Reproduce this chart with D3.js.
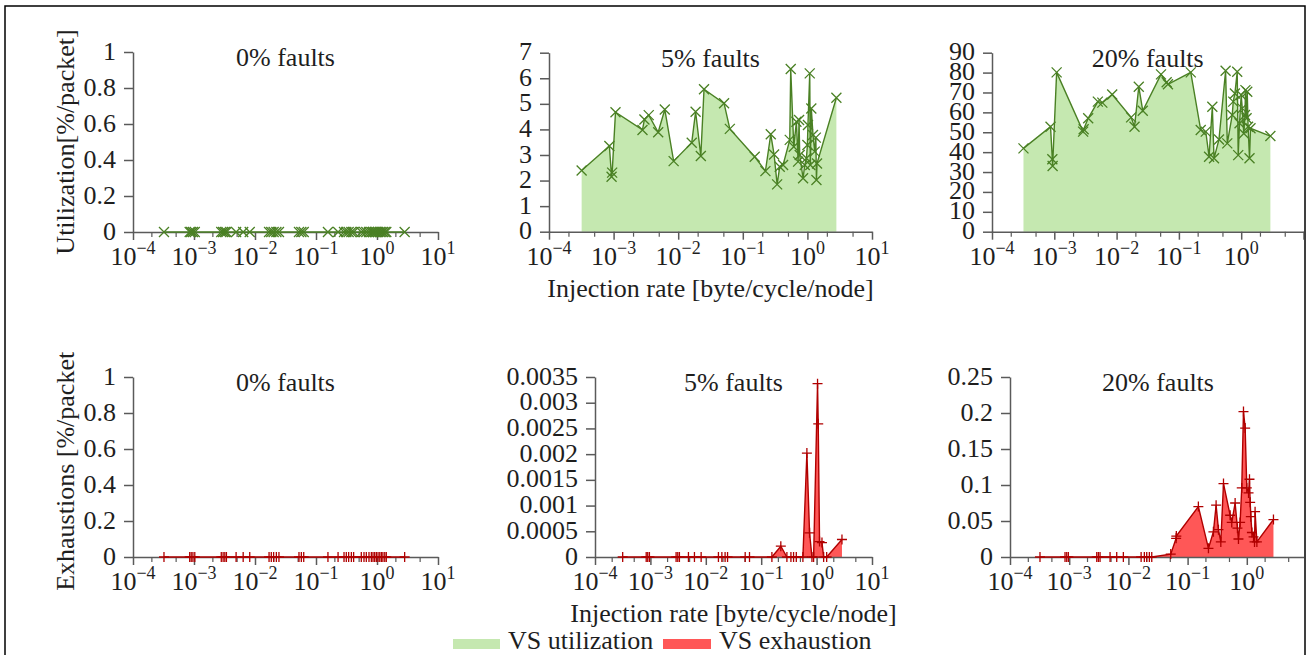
<!DOCTYPE html>
<html><head><meta charset="utf-8">
<script src="https://cdn.jsdelivr.net/npm/d3@7"></script>
<style>
body{margin:0;background:#fff}
svg{display:block}
text{font-family:"Liberation Serif","Times New Roman",serif;fill:#1e1e1e}
</style></head><body>
<svg id="c" width="1309" height="655"></svg>
<script>
// ---------------- DATA ----------------
const titles = ["0% faults", "5% faults", "20% faults"];
const xTitle = "Injection rate [byte/cycle/node]";
const yTitleTop = "Utilization[%/packet]";
const yTitleBottom = "Exhaustions [%/packet]";
const legendLabels = ["VS utilization", "VS exhaustion"];

const ticksUtil0 = [0, 0.2, 0.4, 0.6, 0.8, 1];
const ticksUtil5 = [0, 1, 2, 3, 4, 5, 6, 7];
const ticksUtil20 = [0, 10, 20, 30, 40, 50, 60, 70, 80, 90];
const ticksExh0 = [0, 0.2, 0.4, 0.6, 0.8, 1];
const ticksExh5 = [0, 0.0005, 0.001, 0.0015, 0.002, 0.0025, 0.003, 0.0035];
const ticksExh20 = [0, 0.05, 0.1, 0.15, 0.2, 0.25];
const decadesFull = [-4, -3, -2, -1, 0, 1];
const decadesCut = [-4, -3, -2, -1, 0];

// 0% faults (shared injection rates)
const rates0 = [3.22e-4, 8.5e-4, 9.0e-4, 9.6e-4, 1.03e-3, 2.8e-3, 3.0e-3, 3.2e-3, 3.4e-3, 4.9e-3, 6.4e-3, 8.2e-3,
  0.017, 0.0185, 0.0202, 0.0224, 0.0247, 0.0526, 0.0575, 0.0629, 0.157, 0.23, 0.288, 0.314, 0.343, 0.38, 0.414,
  0.553, 0.612, 0.668, 0.739, 0.808, 0.86, 0.916, 0.976, 1.04, 1.11, 1.18, 1.25, 1.34, 1.42, 2.84];
const util0 = [0,0,0,0,0,0,0,0,0,0,0,0,0,0,0,0,0,0,0,0,0,0,0,0,0,0,0,0,0,0,0,0,0,0,0,0,0,0,0,0,0,0];
const exh0  = [0,0,0,0,0,0,0,0,0,0,0,0,0,0,0,0,0,0,0,0,0,0,0,0,0,0,0,0,0,0,0,0,0,0,0,0,0,0,0,0,0,0];

// 5% faults utilization
const rates5u = [3.2e-4, 8.6e-4, 9.3e-4, 9.5e-4, 1.07e-3, 2.8e-3, 3.0e-3, 3.5e-3, 4.9e-3, 6.2e-3, 8.5e-3,
  0.0162, 0.0186, 0.0224, 0.0251, 0.0513, 0.063, 0.153, 0.224, 0.271, 0.305, 0.34, 0.373, 0.42, 0.533, 0.552,
  0.615, 0.676, 0.718, 0.743, 0.76, 0.857, 0.91, 0.966, 1.0, 1.02, 1.087, 1.11, 1.15, 1.22, 1.30, 1.35, 1.38, 1.41, 2.81];
const util5 = [2.39, 3.35, 2.15, 2.31, 4.67, 3.98, 4.39, 4.56, 3.89, 4.78, 2.76, 3.48, 4.69, 2.96, 5.57, 5.02,
  4.02, 2.93, 2.37, 3.81, 3.02, 1.85, 2.54, 2.61, 3.59, 6.36, 3.32, 4.30, 2.74, 4.37, 3.0, 2.09, 2.61, 2.87,
  3.39, 4.17, 6.19, 2.61, 4.82, 3.78, 3.13, 3.68, 2.02, 2.67, 5.24];

// 20% faults utilization
const rates20u = [3.2e-4, 8.7e-4, 9.3e-4, 9.4e-4, 1.09e-3, 2.9e-3, 2.96e-3, 3.5e-3, 5.0e-3, 5.9e-3, 8.5e-3,
  0.0171, 0.0194, 0.0227, 0.0263, 0.0516, 0.0636, 0.0667, 0.155, 0.224, 0.27, 0.305, 0.344, 0.366, 0.44,
  0.562, 0.598, 0.718, 0.745, 0.792, 0.863, 0.895, 0.94, 1.0, 1.04, 1.10, 1.15, 1.17, 1.22, 1.25, 1.29, 1.36, 1.41, 2.94];
const util20 = [41.9, 52.8, 36.4, 33.0, 80.1, 50.3, 51.5, 57.0, 65.4, 64.9, 69.0, 57.5, 52.8, 72.9, 60.8,
  79.1, 75.1, 74.1, 80.1, 51.1, 50.3, 37.7, 62.8, 36.9, 46.4, 80.9, 44.4, 58.7, 65.4, 69.5, 80.4, 38.5, 54.5,
  68.7, 62, 49.4, 58.7, 71.2, 57, 70.4, 52.8, 36.9, 52, 48.1];

// 5% faults exhaustion
const rates5e = [3.16e-4, 8.4e-4, 8.95e-4, 9.6e-4, 2.91e-3, 3.12e-3, 3.34e-3, 4.86e-3, 6.24e-3, 8.24e-3,
  0.0169, 0.0195, 0.0223, 0.0247, 0.0514, 0.0615, 0.156, 0.226, 0.291, 0.344, 0.384, 0.43, 0.566, 0.668,
  0.746, 0.824, 0.883, 1.04, 1.07, 1.13, 1.25, 1.34, 1.52, 2.87];
const exh5 = [0,0,0,0,0,0,0,0,0,0,0,0,0,0,0,0,0, 0.00021, 0,0,0,0,0, 0.00202, 0.00047, 0, 0,
  0.00337, 0.00259, 0.0003, 0.00028, 0, 0, 0.00034];

// 20% faults exhaustion
const rates20e = [3.21e-4, 8.5e-4, 9.08e-4, 9.68e-4, 2.92e-3, 3.11e-3, 3.32e-3, 4.9e-3, 6.35e-3, 8.22e-3,
  0.0164, 0.0186, 0.0204, 0.0226, 0.0248, 0.0519, 0.064, 0.0645, 0.152, 0.225, 0.273, 0.303, 0.332, 0.364,
  0.404, 0.523, 0.557, 0.635, 0.695, 0.723, 0.771, 0.822, 0.879, 0.938, 1.0, 1.07, 1.11, 1.14, 1.17, 1.22,
  1.30, 1.35, 1.38, 1.48, 2.82];
const exh20 = [0,0,0,0,0,0,0,0,0,0,0,0,0,0,0, 0.004, 0.026, 0.029, 0.070, 0.012, 0.035, 0.072, 0.038, 0.021,
  0.102, 0.058, 0.048, 0.075, 0.040, 0.025, 0.048, 0.096, 0.202, 0.179, 0.096, 0.089, 0.108, 0.076, 0.056,
  0.034, 0.028, 0.021, 0.063, 0.021, 0.052];

// ---------------- STYLE / LAYOUT ----------------
const GREEN_FILL = "#c5e8b0", GREEN_LINE = "#4a8024";
const RED_FILL = "#ff5757", RED_LINE = "#b00000";
const AXIS = "#5a5a5a";
const FONT = 26;
const SERIF = '"Liberation Serif","Times New Roman",serif';

const panels = [
  {x0:133, x1:438, yt:52, yb:232, r:rates0, v:util0, ticks:ticksUtil0, dec:decadesFull, kind:"u", title:titles[0]},
  {x0:549, x1:872, yt:52.7, yb:231.7, r:rates5u, v:util5, ticks:ticksUtil5, dec:decadesFull, kind:"u", title:titles[1], xt:true},
  {x0:992, x1:1303.5, yt:52.7, yb:231.7, r:rates20u, v:util20, ticks:ticksUtil20, dec:decadesCut, kind:"u", title:titles[2]},
  {x0:133, x1:438, yt:377, yb:557, r:rates0, v:exh0, ticks:ticksExh0, dec:decadesFull, kind:"e", title:titles[0]},
  {x0:595, x1:872, yt:377, yb:557, r:rates5e, v:exh5, ticks:ticksExh5, dec:decadesFull, kind:"e", title:titles[1], xt:true},
  {x0:1010, x1:1306, yt:377, yb:557, r:rates20e, v:exh20, ticks:ticksExh20, dec:decadesCut, kind:"e", title:titles[2]}
];

const svg = d3.select("#c");
const defs = svg.append("defs");
defs.append("clipPath").attr("id","frameclip").append("rect").attr("x",0).attr("y",0).attr("width",1304).attr("height",655);
defs.append("clipPath").attr("id","ylabclip").append("rect").attr("x",0).attr("y",352).attr("width",200).attr("height",300);

const root = svg.append("g").attr("clip-path","url(#frameclip)");

panels.forEach(p => {
  const x = d3.scaleLog().domain([1e-4, 10]).range([p.x0, p.x1]);
  const y = d3.scaleLinear().domain([0, p.ticks[p.ticks.length-1]]).range([p.yb, p.yt]);
  const g = root.append("g");
  const data = p.r.map((r,i) => ({r, v:p.v[i]}));
  const fill = p.kind === "u" ? GREEN_FILL : RED_FILL;
  const stroke = p.kind === "u" ? GREEN_LINE : RED_LINE;

  g.append("path").datum(data)
    .attr("d", d3.area().x(d=>x(d.r)).y0(y(0)).y1(d=>y(d.v)))
    .attr("fill", fill);

  const ya = g.append("g").attr("transform",`translate(${p.x0},0)`)
    .call(d3.axisLeft(y).tickValues(p.ticks).tickSize(9).tickSizeOuter(0).tickPadding(8).tickFormat(d=>String(d)));
  ya.attr("font-family", SERIF);
  ya.select(".domain").attr("stroke",AXIS).attr("stroke-width",1.5);
  ya.selectAll(".tick line").attr("stroke",AXIS).attr("stroke-width",1.5);
  ya.selectAll(".tick text").style("font-size",FONT+"px").style("font-family",SERIF)
    .attr("fill","#1e1e1e").attr("dy","0.27em");

  const majors = [-4,-3,-2,-1,0,1].map(e=>Math.pow(10,e));
  const xa = g.append("g").attr("transform",`translate(0,${p.yb})`)
    .call(d3.axisBottom(x).tickValues(majors).tickSize(8).tickSizeOuter(0).tickFormat(""));
  xa.select(".domain").attr("stroke",AXIS).attr("stroke-width",1.5);
  xa.selectAll(".tick line").attr("stroke",AXIS).attr("stroke-width",1.5);
  const minors = [];
  [-4,-3,-2,-1,0].forEach(e => { minors.push(2*Math.pow(10,e)); minors.push(5*Math.pow(10,e)); });
  const xm = g.append("g").attr("transform",`translate(0,${p.yb})`)
    .call(d3.axisBottom(x).tickValues(minors).tickSize(5).tickSizeOuter(0).tickFormat(""));
  xm.select(".domain").remove();
  xm.selectAll(".tick line").attr("stroke",AXIS).attr("stroke-width",1.2);

  p.dec.forEach(e => {
    const t = g.append("text").attr("x", x(Math.pow(10,e))).attr("y", p.yb+33)
      .attr("text-anchor","middle").style("font-size",FONT+"px").style("font-family",SERIF);
    t.append("tspan").text("10");
    t.append("tspan").attr("dy",-11).style("font-size","18px").text(e<0 ? "\u2212"+(-e) : String(e));
  });

  g.append("path").datum(data)
    .attr("d", d3.line().x(d=>x(d.r)).y(d=>y(d.v)))
    .attr("fill","none").attr("stroke",stroke).attr("stroke-width",1.4);

  const mk = p.kind === "u" ? "M-5,-5L5,5M-5,5L5,-5" : "M-5,0L5,0M0,-5L0,5";
  g.selectAll("path.mk").data(data).enter().append("path").attr("class","mk")
    .attr("transform", d=>`translate(${x(d.r)},${y(d.v)})`)
    .attr("d", mk).attr("fill","none").attr("stroke",stroke).attr("stroke-width",1.3);

  g.append("text").attr("x",(p.x0+p.x1)/2).attr("y",p.yt+14).attr("text-anchor","middle")
    .style("font-size",FONT+"px").style("font-family",SERIF).text(p.title);

  if (p.xt) {
    g.append("text").attr("x",(p.x0+p.x1)/2).attr("y",p.yb+65).attr("text-anchor","middle")
      .style("font-size",FONT+"px").style("font-family",SERIF).text(xTitle);
  }
});

root.append("text").attr("transform","translate(74,142) rotate(-90)").attr("text-anchor","middle")
  .style("font-size",FONT+"px").style("font-family",SERIF).text(yTitleTop);
root.append("g").attr("clip-path","url(#ylabclip)").append("text")
  .attr("transform","translate(74,467) rotate(-90)").attr("text-anchor","middle")
  .style("font-size",FONT+"px").style("font-family",SERIF).text(yTitleBottom);

const lg = root.append("g");
lg.append("rect").attr("x",453).attr("y",639).attr("width",47).attr("height",10).attr("fill",GREEN_FILL);
lg.append("text").attr("x",508).attr("y",649).style("font-size",FONT+"px").style("font-family",SERIF).text(legendLabels[0]);
lg.append("rect").attr("x",663).attr("y",639).attr("width",48).attr("height",10).attr("fill",RED_FILL);
lg.append("text").attr("x",719).attr("y",649).style("font-size",FONT+"px").style("font-family",SERIF).text(legendLabels[1]);

svg.append("rect").attr("x",5).attr("y",6).attr("width",1300).attr("height",700)
  .attr("fill","none").attr("stroke","#000").attr("stroke-width",1.5);
</script>
</body></html>
